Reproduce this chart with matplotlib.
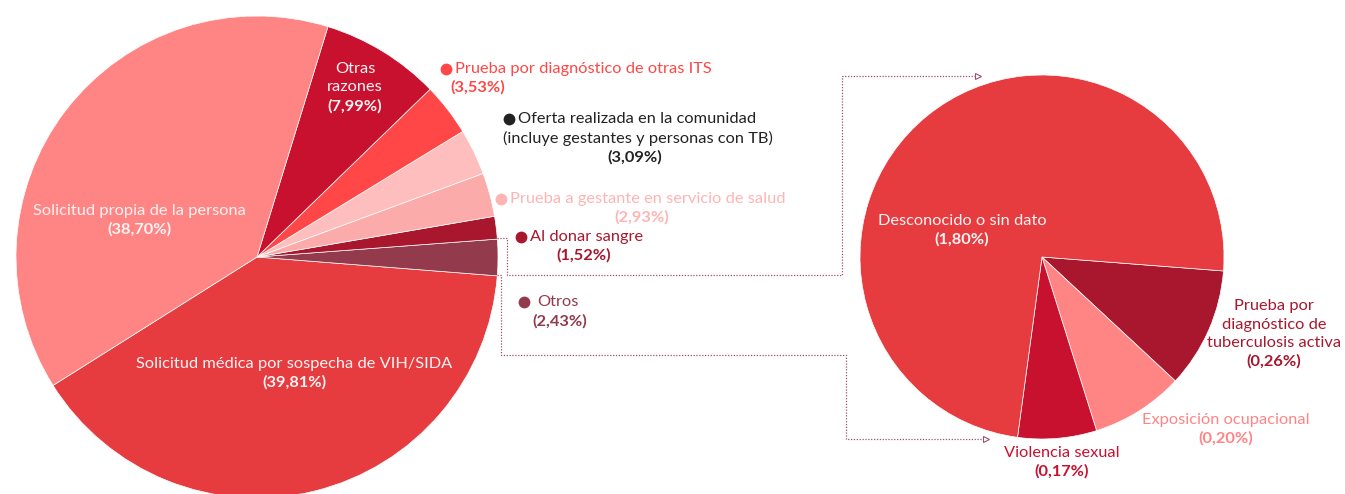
import matplotlib
matplotlib.use("Agg")
import matplotlib.pyplot as plt

plt.rcParams['font.family'] = ['Lato', 'DejaVu Sans']

W, H = 1345, 494

# ---- datos del gráfico principal (orden antihorario desde "Solicitud médica")
main_labels = ["Solicitud médica por sospecha de VIH/SIDA", "Otros", "Al donar sangre",
               "Prueba a gestante en servicio de salud",
               "Oferta realizada en la comunidad\n(incluye gestantes y personas con TB)",
               "Prueba por diagnóstico de otras ITS", "Otras\nrazones",
               "Solicitud propia de la persona"]
main_values = [39.81, 2.43, 1.52, 2.93, 3.09, 3.53, 7.99, 38.70]
main_pct = ["(39,81%)", "(2,43%)", "(1,52%)", "(2,93%)", "(3,09%)", "(3,53%)", "(7,99%)", "(38,70%)"]

# ---- desglose de "Otros" (orden horario)
sub_labels = ["Prueba por\ndiagnóstico de\ntuberculosis activa", "Exposición ocupacional",
              "Violencia sexual", "Desconocido o sin dato"]
sub_values = [0.26, 0.20, 0.17, 1.80]
sub_pct = ["(0,26%)", "(0,20%)", "(0,17%)", "(1,80%)"]

# colores
main_colors = ["#E63B3F", "#933A4D", "#A8172D", "#FCABAB", "#FFBEBE", "#FF4747", "#C8112E", "#FF8585"]
sub_colors = ["#A8172D", "#FF8585", "#C8112E", "#E63B3F"]
legend_dot = {"ITS": "#FF4747", "Oferta": "#222222", "Gestante": "#FFB4B4",
              "Donar": "#A8172D", "Otros": "#933A4D"}
LINE_C = "#9E5068"
WHITE_T = "#FFF3F3"
FS = 11.8
STEP = 18.5


def Y(y):
    # coordenadas de píxel (desde arriba) -> eje
    return H - y


fig = plt.figure(figsize=(W / 100, H / 100), dpi=100)
ax = fig.add_axes([0, 0, 1, 1])

wp = dict(linewidth=0.5, edgecolor="#ffffff")
ax.pie(main_values, colors=main_colors, startangle=212.2, counterclock=True,
       center=(257, Y(257)), radius=241, wedgeprops=wp, frame=True)
ax.pie(sub_values, colors=sub_colors, startangle=-4.4, counterclock=False,
       center=(1042, Y(257)), radius=182, wedgeprops=wp, frame=True)

ax.set_xlim(0, W)
ax.set_ylim(0, H)
ax.set_aspect('equal')
ax.axis('off')


def label(x, y_top, name, pct, color):
    # una línea de texto por renglón, y el porcentaje en negrita debajo
    lines = name.split("\n")
    for i, ln in enumerate(lines):
        ax.text(x, Y(y_top + i * STEP), ln, ha='center', va='center',
                fontsize=FS, color=color)
    ax.text(x, Y(y_top + len(lines) * STEP), pct, ha='center', va='center',
            fontsize=FS, color=color, fontweight='bold')


# etiquetas dentro del pie principal
label(139, 211, main_labels[7], main_pct[7], WHITE_T)
label(294, 364, main_labels[0], main_pct[0], WHITE_T)
label(355, 69, main_labels[6], main_pct[6], WHITE_T)


# etiquetas externas con punto
def dot_label(dx, y, tx, name, color, pct, px, py):
    ax.plot(dx, Y(y), 'o', color=color, markersize=8.5, markeredgewidth=0)
    ax.text(tx, Y(y), name, ha='left', va='center', fontsize=FS, color=color)
    ax.text(px, Y(py), pct, ha='center', va='center', fontsize=FS, color=color,
            fontweight='bold')


dot_label(446, 69, 455, main_labels[5], legend_dot["ITS"], main_pct[5], 478, 87)
oferta = main_labels[4].split("\n")
ax.plot(509, Y(119), 'o', color=legend_dot["Oferta"], markersize=8.5, markeredgewidth=0)
ax.text(518, Y(119), oferta[0], ha='left', va='center',
        fontsize=FS, color=legend_dot["Oferta"])
ax.text(503, Y(138), oferta[1], ha='left', va='center',
        fontsize=FS, color=legend_dot["Oferta"])
ax.text(635, Y(157), main_pct[4], ha='center', va='center', fontsize=FS,
        color=legend_dot["Oferta"], fontweight='bold')
dot_label(501, 199, 510, main_labels[3], legend_dot["Gestante"], main_pct[3], 642, 217)
dot_label(521, 237, 530, main_labels[2], legend_dot["Donar"], main_pct[2], 584, 255)
dot_label(524, 302, 537, main_labels[1], legend_dot["Otros"], main_pct[1], 560, 321)

# etiquetas del pie de desglose
label(962, 221, sub_labels[3], sub_pct[3], WHITE_T)
label(1274, 306, sub_labels[0], sub_pct[0], sub_colors[0])
label(1226, 420, sub_labels[1], sub_pct[1], sub_colors[1])
label(1062, 453, sub_labels[2], sub_pct[2], sub_colors[2])

# conectores punteados
ls = dict(color=LINE_C, linewidth=0.9, linestyle=(0, (1, 1.3)))
xs = [497, 507, 507, 842, 842, 976]
ys = [238, 238, 275, 275, 76, 76]
ax.plot(xs, [Y(v) for v in ys], **ls)
ax.plot(978, Y(76), marker='>', markersize=4, color=LINE_C, markerfacecolor='white',
        markeredgewidth=0.8)
xs = [497, 501, 501, 846, 846, 984]
ys = [275, 275, 355, 355, 439, 439]
ax.plot(xs, [Y(v) for v in ys], **ls)
ax.plot(986, Y(439), marker='>', markersize=4, color=LINE_C, markerfacecolor='white',
        markeredgewidth=0.8)

fig.savefig("out.png", dpi=100)
